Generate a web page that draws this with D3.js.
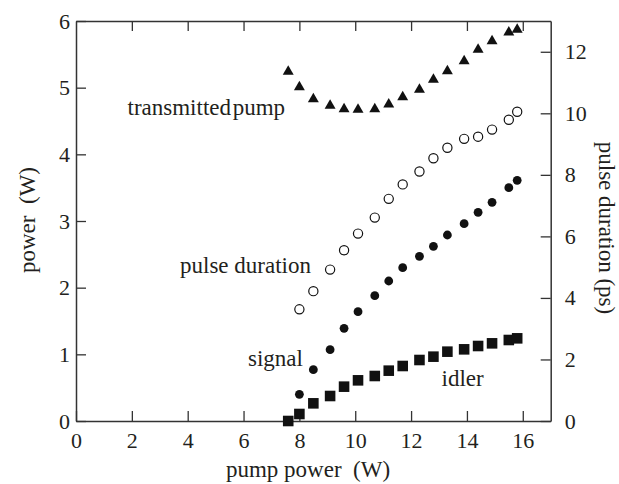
<!DOCTYPE html>
<html>
<head>
<meta charset="utf-8">
<script src="https://cdn.jsdelivr.net/npm/d3@7"></script>
<style>
  body { margin: 0; background: #fff; }
  svg text { font-family: "Liberation Serif", "Times New Roman", serif; fill: #231f20; }
</style>
</head>
<body>
<div id="chart"></div>
<script>
// data
const pumpPower = [7.6, 8.0, 8.5, 9.1, 9.6, 10.1, 10.7, 11.2, 11.7, 12.3, 12.8, 13.3, 13.9, 14.4, 14.9, 15.5, 15.8];
const transmittedPump = [5.24, 5.01, 4.83, 4.73, 4.68, 4.67, 4.68, 4.75, 4.86, 4.97, 5.12, 5.25, 5.40, 5.57, 5.70, 5.83, 5.87];
const signalPower = [null, 0.40, 0.77, 1.07, 1.39, 1.64, 1.88, 2.10, 2.30, 2.47, 2.62, 2.79, 2.96, 3.13, 3.28, 3.50, 3.61];
const idlerPower = [0.0, 0.105, 0.265, 0.375, 0.515, 0.61, 0.675, 0.755, 0.825, 0.915, 0.965, 1.04, 1.075, 1.125, 1.165, 1.215, 1.24];
const pulseDuration = [null, 3.63, 4.22, 4.92, 5.55, 6.09, 6.61, 7.22, 7.69, 8.11, 8.54, 8.88, 9.17, 9.24, 9.47, 9.79, 10.05];

const xTicks = [0, 2, 4, 6, 8, 10, 12, 14, 16];
const yLeftTicks = [0, 1, 2, 3, 4, 5, 6];
const yRightTicks = [0, 2, 4, 6, 8, 10, 12];

// dimensions
const dimensions = {
    width: 619,
    height: 484,
    margin: { top: 21, right: 68.3, bottom: 63, left: 76 },
};
dimensions.boundedWidth = dimensions.width - dimensions.margin.left - dimensions.margin.right;
dimensions.boundedHeight = dimensions.height - dimensions.margin.top - dimensions.margin.bottom;

const svg = d3.select("#chart")
    .append("svg")
    .attr("width", dimensions.width)
    .attr("height", dimensions.height);

const bounds = svg.append("g")
    .attr("transform", `translate(${dimensions.margin.left}, ${dimensions.margin.top})`);

// scales
const xScale = d3.scaleLinear().domain([0, 17]).range([0, dimensions.boundedWidth]);
const yLeft = d3.scaleLinear().domain([0, 6]).range([dimensions.boundedHeight, 0]);
const yRight = d3.scaleLinear().domain([0, 13]).range([dimensions.boundedHeight, 0]);

// axes (ticks point inward)
const axisColor = "#333";
const tickFont = "22px";
const labelFont = "23px";
const serif = '"Liberation Serif", "Times New Roman", serif';
const intFormat = d3.format("d");

function styleAxis(g) {
    g.attr("font-family", serif).attr("font-size", 22);
    g.selectAll(".domain").attr("stroke", axisColor).attr("stroke-width", 1.5);
    g.selectAll(".tick line").attr("stroke", axisColor).attr("stroke-width", 1.3);
    g.selectAll(".tick text")
        .style("font-family", serif)
        .style("font-size", tickFont)
        .attr("fill", "#231f20");
}

bounds.append("g")
    .attr("transform", `translate(0, ${dimensions.boundedHeight})`)
    .call(d3.axisBottom(xScale).tickValues(xTicks).tickFormat(intFormat)
        .tickSize(-10).tickSizeOuter(0).tickPadding(11))
    .call(styleAxis);

bounds.append("g")
    .call(d3.axisTop(xScale).tickValues(xTicks.slice(1)).tickSize(-10).tickSizeOuter(0).tickFormat(""))
    .call(styleAxis);

bounds.append("g")
    .call(d3.axisLeft(yLeft).tickValues(yLeftTicks).tickFormat(intFormat)
        .tickSize(-10).tickSizeOuter(0).tickPadding(6))
    .call(styleAxis);

bounds.append("g")
    .attr("transform", `translate(${dimensions.boundedWidth}, 0)`)
    .call(d3.axisRight(yRight).tickValues(yRightTicks).tickFormat(intFormat)
        .tickSize(-10).tickSizeOuter(0).tickPadding(14))
    .call(styleAxis);

// data
const markColor = "#111";
const rows = pumpPower.map((p, i) => ({
    p,
    pump: transmittedPump[i],
    signal: signalPower[i],
    idler: idlerPower[i],
    pulse: pulseDuration[i],
}));

bounds.selectAll("path.pump")
    .data(rows)
    .join("path")
    .attr("class", "pump")
    .attr("d", d3.symbol(d3.symbolTriangle, 52))
    .attr("transform", d => `translate(${xScale(d.p)}, ${yLeft(d.pump)})`)
    .attr("fill", markColor);

bounds.selectAll("path.idler")
    .data(rows)
    .join("path")
    .attr("class", "idler")
    .attr("d", d3.symbol(d3.symbolSquare, 112))
    .attr("transform", d => `translate(${xScale(d.p)}, ${yLeft(d.idler)})`)
    .attr("fill", markColor);

bounds.selectAll("circle.signal")
    .data(rows.filter(d => d.signal != null))
    .join("circle")
    .attr("class", "signal")
    .attr("cx", d => xScale(d.p))
    .attr("cy", d => yLeft(d.signal))
    .attr("r", 4.4)
    .attr("fill", markColor);

bounds.selectAll("circle.pulse")
    .data(rows.filter(d => d.pulse != null))
    .join("circle")
    .attr("class", "pulse")
    .attr("cx", d => xScale(d.p))
    .attr("cy", d => yRight(d.pulse))
    .attr("r", 4.6)
    .attr("fill", "none")
    .attr("stroke", markColor)
    .attr("stroke-width", 1.2);

// series labels
const labels = [
    { text: "transmitted pump", x: 127.5, y: 115 },
    { text: "pulse duration", x: 180, y: 273 },
    { text: "signal", x: 248, y: 366 },
    { text: "idler", x: 441.5, y: 386 },
];
svg.selectAll("text.series-label")
    .data(labels)
    .join("text")
    .attr("class", "series-label")
    .attr("x", d => d.x)
    .attr("y", d => d.y)
    .style("font-size", labelFont)
    .style("word-spacing", d => d.text === "transmitted pump" ? "-4px" : null)
    .text(d => d.text);

// axis titles
svg.append("text")
    .attr("x", 308)
    .attr("y", 477)
    .attr("text-anchor", "middle")
    .style("font-size", labelFont)
    .style("white-space", "pre")
    .text("pump power  (W)");

svg.append("text")
    .attr("transform", "translate(35, 220) rotate(-90)")
    .attr("text-anchor", "middle")
    .style("font-size", labelFont)
    .style("white-space", "pre")
    .text("power  (W)");

svg.append("text")
    .attr("transform", "translate(599, 228) rotate(90)")
    .attr("text-anchor", "middle")
    .style("font-size", labelFont)
    .text("pulse duration (ps)");
</script>
</body>
</html>
